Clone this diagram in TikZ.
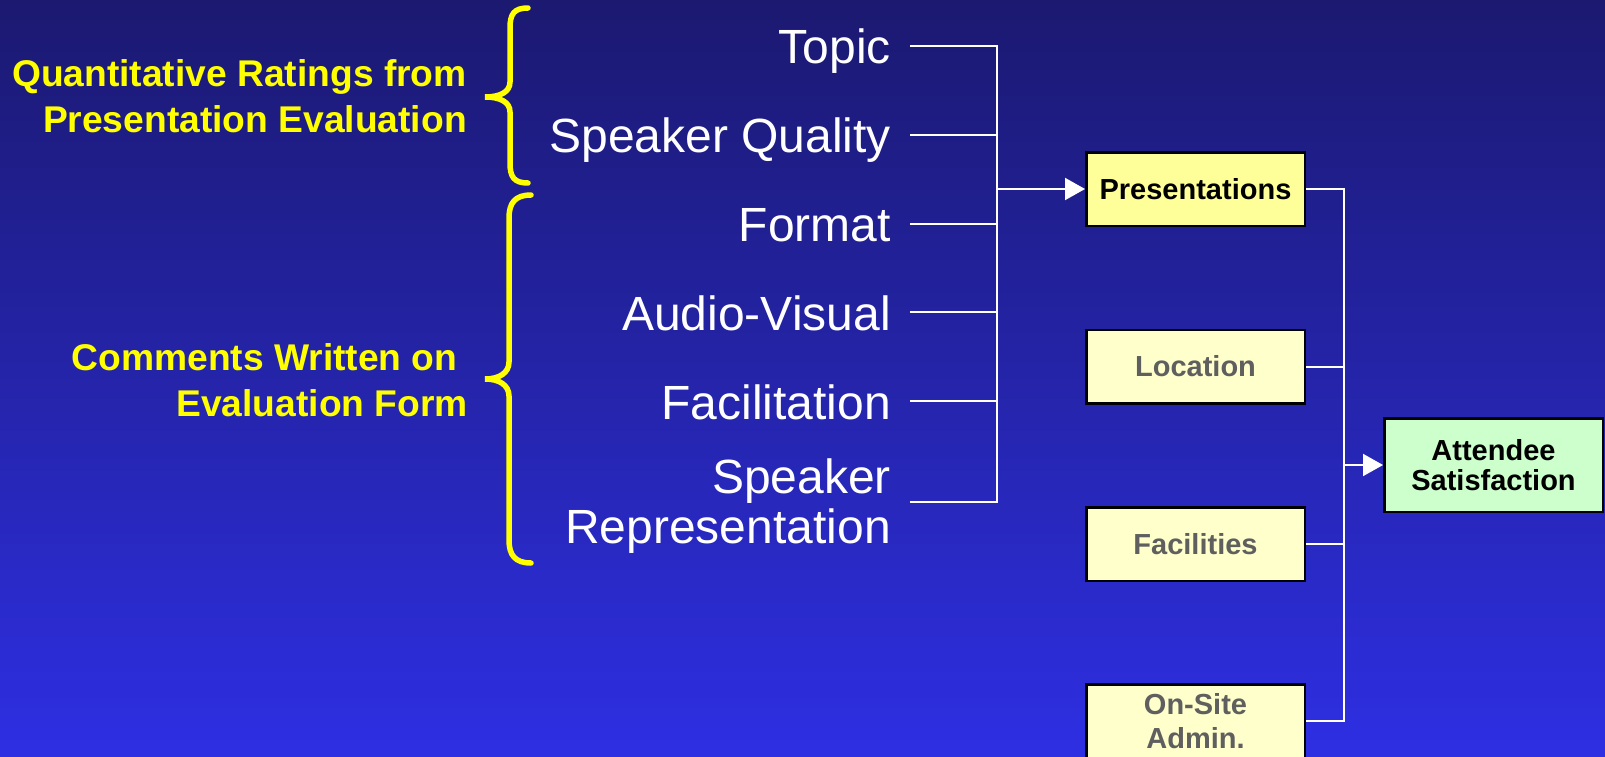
\documentclass[tikz,border=0pt]{standalone}
\usepackage{fontspec}
\setmainfont{Liberation Sans}
\usetikzlibrary{arrows.meta}

\definecolor{bgtop}{RGB}{27,25,112}
\definecolor{bgbot}{RGB}{46,47,227}
\definecolor{hiyellow}{RGB}{255,255,0}
\definecolor{presfill}{RGB}{255,255,153}
\definecolor{palefill}{RGB}{255,255,204}
\definecolor{greenfill}{RGB}{204,255,204}
\definecolor{mutedtext}{RGB}{95,95,95}

\begin{document}
\begin{tikzpicture}[x=1pt,y=-1pt,
  item/.style={anchor=base east,inner sep=0pt,text=white,
    font=\fontsize{48}{50}\selectfont},
  group/.style={anchor=base east,inner sep=0pt,text=hiyellow,
    font=\bfseries\fontsize{37.2}{46}\selectfont},
  factor/.style={draw=black,line width=2.5pt,fill=palefill,
    minimum width=218.5pt,minimum height=73.5pt,inner sep=0pt,
    align=center,text=mutedtext,font=\bfseries\fontsize{29}{34}\selectfont},
  wire/.style={draw=white,line width=2pt},
  feed/.style={wire,-{Triangle[length=20pt,width=22pt]}},
  brace/.style={draw=hiyellow,line width=5.5pt,line cap=round}
]
\useasboundingbox (0,0) rectangle (1605,757);
\clip (0,0) rectangle (1605,757);

% backdrop
\shade[top color=bgtop,bottom color=bgbot] (0,0) rectangle (1605,757);

% source labels
\node[item] (topic)   at (891,64)  {Topic};
\node[item] (quality) at (891,153) {Speaker Quality};
\node[item] (format)  at (891,241) {Format};
\node[item] (av)      at (891,330) {Audio-Visual};
\node[item] (facil)   at (891,419) {Facilitation};
\node[item] (rep)     at (891,493)
  {\begin{tabular}[t]{@{}r@{}}Speaker\\Representation\end{tabular}};

% group captions
\node[group] (quant) at (467,87)
  {\begin{tabular}[t]{@{}r@{}}Quantitative Ratings from\\Presentation Evaluation\end{tabular}};
\node[group] (comments) at (468,370)
  {\begin{tabular}[t]{@{}r@{}}Comments Written on\kern0.278em\\Evaluation Form\end{tabular}};

% braces
\draw[brace] (528,8) .. controls (514,8) and (510,14) .. (510,28)
  -- (510,82) .. controls (510,92) and (500,97) .. (485,97)
  .. controls (500,97) and (510,102) .. (510,112)
  -- (510,163) .. controls (510,177) and (514,183) .. (528,183);
\draw[brace] (531,195) .. controls (515,195) and (509,203) .. (509,218)
  -- (509,362) .. controls (509,373) and (499,379) .. (485,379)
  .. controls (499,379) and (509,385) .. (509,396)
  -- (509,540) .. controls (509,555) and (515,563) .. (531,563);

% factor boxes
\node[factor,fill=presfill,text=black] (pres) at (1195.5,189) {Presentations};
\node[factor] (loc)    at (1195.5,366.5) {Location};
\node[factor] (fac)    at (1195.5,544)   {Facilities};
\node[factor] (onsite) at (1195.5,721)   {On-Site\\Admin.};
\node[factor,fill=greenfill,text=black,minimum height=93.5pt,
  font=\bfseries\fontsize{29}{30}\selectfont] (att) at (1493.5,465)
  {Attendee\\Satisfaction};

% left collector
\coordinate (busL) at (997,189);
\coordinate (topicL)   at (910,46);
\coordinate (qualityL) at (910,135);
\coordinate (formatL)  at (910,224);
\coordinate (avL)      at (910,312);
\coordinate (facilL)   at (910,401);
\coordinate (repL)     at (910,502);
\draw[wire] (topicL) -- (topicL -| busL) -- (repL -| busL) -- (repL);
\draw[wire] (qualityL) -- (qualityL -| busL);
\draw[wire] (formatL) -- (formatL -| busL);
\draw[wire] (avL) -- (avL -| busL);
\draw[wire] (facilL) -- (facilL -| busL);
\draw[feed] (busL) -- (pres.west);

% right collector
\coordinate (busR) at (1344,465);
\draw[wire] (pres.east) -- (pres.east -| busR) -- (onsite.east -| busR) -- (onsite.east);
\draw[wire] (loc.east) -- (loc.east -| busR);
\draw[wire] (fac.east) -- (fac.east -| busR);
\draw[feed] (busR) -- (att.west);
\end{tikzpicture}
\end{document}
